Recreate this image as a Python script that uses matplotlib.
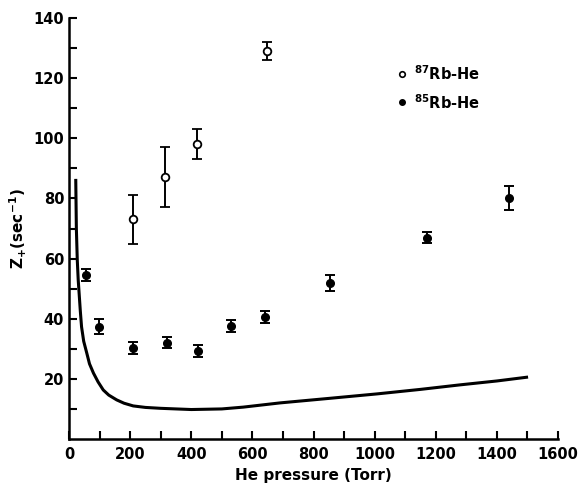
import numpy as np
import matplotlib
matplotlib.use('Agg')
import matplotlib.pyplot as plt

# 87Rb-He (open circles)
p87 = [210, 315, 419, 649]
z87 = [73, 87, 98, 129]
e87 = [8, 10, 5, 3]

# 85Rb-He (filled circles)
p85 = [55, 99, 210, 321, 423, 530, 642, 854, 1171, 1440]
z85 = [54.5, 37.3, 30.3, 32, 29.2, 37.6, 40.5, 52, 67, 80.3]
e85 = [2, 2.5, 2, 1.8, 2, 2, 2, 2.7, 1.8, 4]

# theory curve
pc = [22, 24, 27, 30, 33, 37, 41, 48, 58, 67, 80, 95, 112, 130, 156, 180,
      210, 250, 300, 400, 500, 570, 690, 850, 1008, 1150, 1279, 1400, 1502]
zc = [86.5, 70, 59.5, 53, 48.5, 42.5, 37.3, 32.5, 28.6, 25, 21.9, 19, 16.3,
      14.6, 13, 11.9, 11, 10.5, 10.2, 9.8, 10, 10.6, 12, 13.5, 15, 16.5, 18,
      19.3, 20.6]

plt.rcParams['font.family'] = ['DejaVu Sans']
plt.rcParams['font.weight'] = 'bold'
plt.rcParams['axes.labelweight'] = 'bold'
plt.rcParams['mathtext.default'] = 'bf'

fig = plt.figure(figsize=(5.82, 4.83), dpi=100)
ax = fig.add_axes([0.1186, 0.0911, 0.8402, 0.8716])

ax.plot(pc, zc, color='black', lw=2.2, solid_capstyle='butt')
ax.errorbar(p87, z87, yerr=e87, fmt='o', mfc='white', mec='black', mew=1.3,
            ms=5.5, ecolor='black', elinewidth=1.4, capsize=3.5, capthick=1.4)
ax.errorbar(p85, z85, yerr=e85, fmt='o', mfc='black', mec='black',
            ms=5.5, ecolor='black', elinewidth=1.4, capsize=3.5, capthick=1.4)

ax.set_xlim(0, 1600)
ax.set_ylim(0, 140)
ax.spines['top'].set_visible(False)
ax.spines['right'].set_visible(False)
ax.spines['left'].set_linewidth(1.8)
ax.spines['bottom'].set_linewidth(1.8)

ax.set_xticks(np.arange(0, 1601, 200))
ax.set_xticks(np.arange(100, 1600, 200), minor=True)
ax.set_yticks(np.arange(20, 141, 20))
ax.set_yticks(np.arange(10, 140, 20), minor=True)
ax.tick_params(which='both', direction='in', length=6, width=1.5,
               labelsize=10.5)
ax.tick_params(axis='x', pad=6)

# legend
ax.plot([1090], [121.5], 'o', mfc='white', mec='black', mew=1.2, ms=4)
ax.plot([1090], [112], 'o', mfc='black', mec='black', ms=4)
ax.text(1130, 121.5, r'$^{87}$Rb-He', fontsize=10.5, va='center')
ax.text(1130, 112, r'$^{85}$Rb-He', fontsize=10.5, va='center')

ax.set_xlabel('He pressure (Torr)', fontsize=11, labelpad=4)
ax.set_ylabel(r'Z$_{+}$(sec$^{-1}$)', fontsize=11, labelpad=3)

fig.savefig('out.png', dpi=100)
